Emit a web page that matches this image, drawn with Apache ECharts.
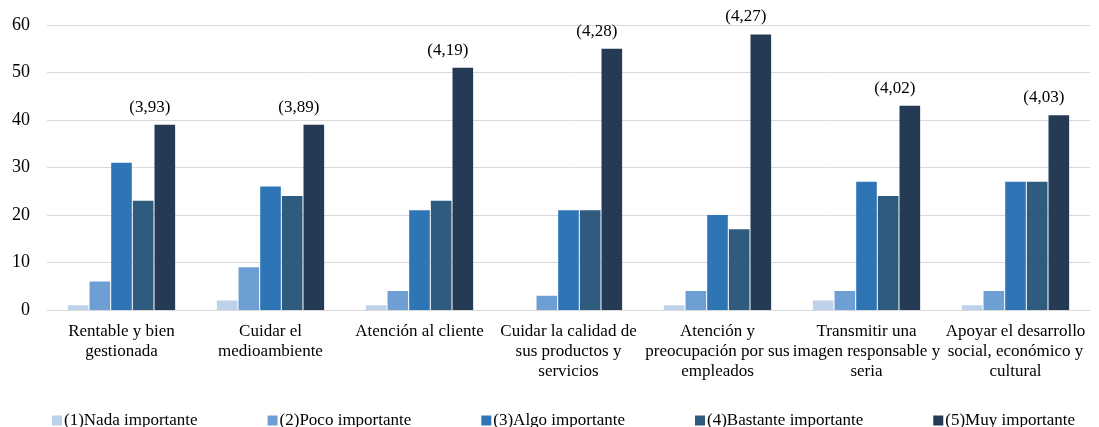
<!DOCTYPE html>
<html>
<head>
<meta charset="utf-8">
<script src="https://cdn.jsdelivr.net/npm/echarts@6/dist/echarts.min.js"></script>
<style>
  html, body { margin: 0; padding: 0; background: #ffffff; }
  #chart { width: 1099px; height: 427px; }
</style>
</head>
<body>
<div id="chart"></div>
<script>
// Categories (aspects of the company valued by respondents)
const categories = [
  'Rentable y bien\ngestionada',
  'Cuidar el\nmedioambiente',
  'Atención al cliente',
  'Cuidar la calidad de\nsus productos y\nservicios',
  'Atención y\npreocupación por sus\nempleados',
  'Transmitir una\nimagen responsable y\nseria',
  'Apoyar el desarrollo\nsocial, económico y\ncultural'
];

// Counts per importance level
const nada     = [1, 2, 1, 0, 1, 2, 1];
const poco     = [6, 9, 4, 3, 4, 4, 4];
const algo     = [31, 26, 21, 21, 20, 27, 27];
const bastante = [23, 24, 23, 21, 17, 24, 27];
const muy      = [39, 39, 51, 55, 58, 43, 41];

// Mean score for each aspect
const means = ['3,93', '3,89', '4,19', '4,28', '4,27', '4,02', '4,03'];

// Y-axis ticks
const yTicks = [0, 10, 20, 30, 40, 50, 60];

const seriesNames = [
  '(1)Nada importante',
  '(2)Poco importante',
  '(3)Algo importante',
  '(4)Bastante importante',
  '(5)Muy importante'
];
const seriesData = [nada, poco, algo, bastante, muy];
const colors = ['#bdd1ea', '#6d9fd5', '#2e75b6', '#2f5b7e', '#243a55'];

const FONT = "'Liberation Serif', 'Times New Roman', serif";

const chart = echarts.init(document.getElementById('chart'), null, { renderer: 'canvas' });

const series = seriesNames.map((name, i) => {
  const s = {
    name: name,
    type: 'bar',
    barGap: '5%',
    barCategoryGap: '28%',
    itemStyle: { color: colors[i] },
    emphasis: { disabled: true },
    data: seriesData[i]
  };
  if (i === 4) {
    // mean score printed above the tallest bar of each group
    s.label = {
      show: true,
      position: 'top',
      offset: [-15, -4],
      formatter: (p) => '(' + means[p.dataIndex] + ')',
      fontFamily: FONT,
      fontSize: 17,
      color: '#000000'
    };
  }
  return s;
});

chart.setOption({
  animation: false,
  backgroundColor: '#ffffff',
  color: colors,
  textStyle: { fontFamily: FONT },
  grid: { left: 47, right: 9, top: 25, bottom: 117, containLabel: false },
  legend: {
    data: seriesNames,
    left: 47,
    top: 407,
    itemWidth: 10,
    itemHeight: 10,
    itemGap: 70,
    icon: 'rect',
    textStyle: { fontFamily: FONT, fontSize: 17, color: '#000000', padding: [0, 0, 0, -3] }
  },
  xAxis: {
    type: 'category',
    data: categories,
    axisLine: { show: true, lineStyle: { color: '#d9d9d9', width: 1 } },
    axisTick: { show: false },
    axisLabel: {
      interval: 0,
      margin: 12,
      fontFamily: FONT,
      fontSize: 17,
      lineHeight: 20,
      color: '#000000',
      align: 'center'
    }
  },
  yAxis: {
    type: 'value',
    min: yTicks[0],
    max: yTicks[yTicks.length - 1],
    interval: 10,
    axisLine: { show: false },
    axisTick: { show: false },
    splitLine: { lineStyle: { color: '#d9d9d9', width: 1 } },
    axisLabel: {
      margin: 17,
      fontFamily: FONT,
      fontSize: 18,
      color: '#000000'
    }
  },
  series: series
});
</script>
</body>
</html>
